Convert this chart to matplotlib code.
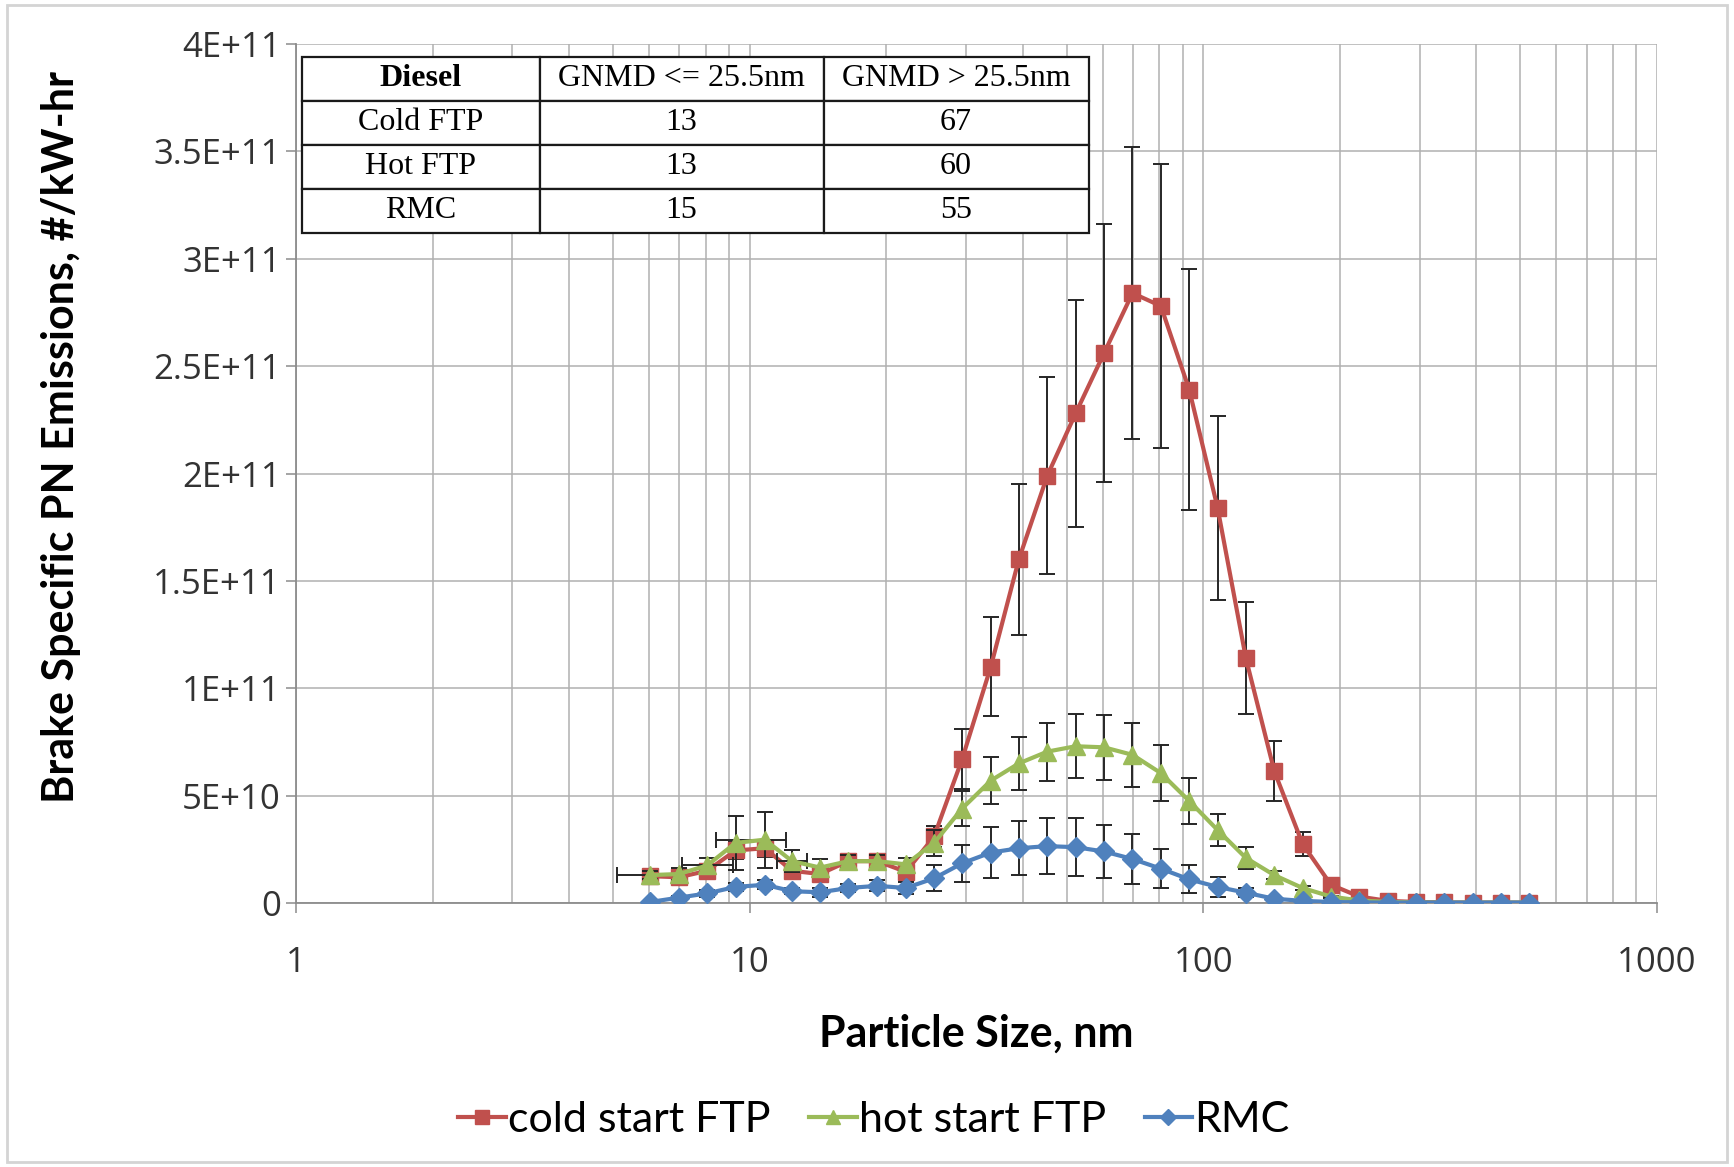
#-------------------------------------------Libraries
import numpy as np
import matplotlib
matplotlib.use('Agg')
import matplotlib.pyplot as plt
from matplotlib.patches import Rectangle
from matplotlib.ticker import NullFormatter, LogLocator
#-------------------------------------------data (units of 1E+10 #/kW-hr)
size_nm = [6.04, 6.98, 8.06, 9.31, 10.8, 12.4, 14.3, 16.5, 19.1, 22.1, 25.5, 29.4,
           34.0, 39.2, 45.3, 52.3, 60.4, 69.8, 80.6, 93.1, 107.5, 124.1, 143.3, 165.5,
           191.1, 220.7, 254.8, 294.3, 339.8, 392.4, 453.2, 523.3]
cold_ftp = [1.25, 1.2, 1.5, 2.45, 2.55, 1.5, 1.35, 1.95, 1.95, 1.45, 3.1, 6.7,
            11.0, 16.0, 19.9, 22.8, 25.6, 28.4, 27.8, 23.9, 18.4, 11.4, 6.15, 2.75,
            0.85, 0.3, 0.1, 0.05, 0.03, 0.02, 0.02, 0.02]
cold_err = [0.1, 0.15, 0.2, 0.4, 0.4, 0.3, 0.3, 0.25, 0.25, 0.3, 0.5, 1.4,
            2.3, 3.5, 4.6, 5.3, 6.0, 6.8, 6.6, 5.6, 4.3, 2.6, 1.4, 0.55,
            0.2, 0.08, 0.03, 0.02, 0.01, 0.01, 0.01, 0.01]
hot_ftp = [1.3, 1.35, 1.75, 2.8, 2.95, 1.95, 1.65, 1.95, 1.95, 1.8, 2.8, 4.4,
           5.7, 6.5, 7.05, 7.3, 7.25, 6.9, 6.05, 4.75, 3.4, 2.1, 1.3, 0.7,
           0.3, 0.12, 0.05, 0.03, 0.02, 0.02, 0.02, 0.02]
hot_err = [0.2, 0.3, 0.35, 1.25, 1.3, 0.5, 0.4, 0.3, 0.3, 0.3, 0.6, 0.8,
           1.1, 1.25, 1.35, 1.5, 1.5, 1.5, 1.3, 1.05, 0.75, 0.5, 0.2, 0.1,
           0.05, 0.02, 0.01, 0.01, 0.01, 0.01, 0.01, 0.01]
rmc = [0.05, 0.25, 0.45, 0.75, 0.85, 0.55, 0.5, 0.7, 0.8, 0.7, 1.15, 1.85,
       2.35, 2.55, 2.65, 2.6, 2.4, 2.05, 1.6, 1.1, 0.75, 0.48, 0.2, 0.1,
       0.05, 0.03, 0.02, 0.02, 0.02, 0.02, 0.02, 0.02]
rmc_err = [0.05, 0.1, 0.15, 0.2, 0.2, 0.15, 0.2, 0.2, 0.25, 0.3, 0.6, 0.85,
           1.2, 1.25, 1.3, 1.35, 1.25, 1.15, 0.9, 0.65, 0.45, 0.2, 0.1, 0.05,
           0.02, 0.01, 0.01, 0.01, 0.01, 0.01, 0.01, 0.01]
# horizontal error bars visible on a few hot start points
hot_xerr_idx = [0, 2, 4, 5]
hot_xerr_lo = [0.95, 0.95, 2.35, 0.9]
hot_xerr_hi = [0.95, 1.15, 1.2, 1.0]

series_names = ['cold start FTP', 'hot start FTP', 'RMC']
y_ticks = [0, 5e10, 1e11, 1.5e11, 2e11, 2.5e11, 3e11, 3.5e11, 4e11]
y_tick_labels = ['0', '5E+10', '1E+11', '1.5E+11', '2E+11', '2.5E+11', '3E+11', '3.5E+11', '4E+11']
x_ticks = [1, 10, 100, 1000]
x_tick_labels = ['1', '10', '100', '1000']

table_rows = [['Diesel', 'GNMD <= 25.5nm', 'GNMD > 25.5nm'],
              ['Cold FTP', '13', '67'],
              ['Hot FTP', '13', '60'],
              ['RMC', '15', '55']]
#-------------------------------------------figure
SCALE = 1e10
narrow = ['Lato', 'DejaVu Sans']
tickfont = ['Open Sans', 'DejaVu Sans']
fig = plt.figure(figsize=(17.34, 11.67), dpi=100)
ax = fig.add_axes([0.1707, 0.2262, 0.7849, 0.7361])

x = np.array(size_nm)
colors = ['#C0504D', '#9BBB59', '#4F81BD']
markers = ['s', '^', 'D']
msizes = [12, 13, 10]
ys = [np.array(cold_ftp) * SCALE, np.array(hot_ftp) * SCALE, np.array(rmc) * SCALE]
errs = [np.array(cold_err) * SCALE, np.array(hot_err) * SCALE, np.array(rmc_err) * SCALE]

handles = []
for i in range(3):
    ax.errorbar(x, ys[i], yerr=errs[i], fmt='none', ecolor='#262626', elinewidth=1.4,
                capsize=6, capthick=1.4, zorder=3 + 2 * i)
    h, = ax.plot(x, ys[i], color=colors[i], marker=markers[i], markersize=msizes[i],
                 lw=3, label=series_names[i], zorder=4 + 2 * i)
    handles.append(h)

xi = np.array(hot_xerr_idx)
ax.errorbar(x[xi], ys[1][xi], xerr=[hot_xerr_lo, hot_xerr_hi], fmt='none', ecolor='#262626',
            elinewidth=1.4, capsize=6, capthick=1.4, zorder=4)
#-------------------------------------------axes
ax.set_xscale('log')
ax.set_xlim(1, 1000)
ax.set_ylim(0, 4e11)
ax.set_xticks(x_ticks)
ax.set_xticklabels(x_tick_labels, family=tickfont)
ax.xaxis.set_minor_locator(LogLocator(base=10, subs=np.arange(2, 10)))
ax.xaxis.set_minor_formatter(NullFormatter())
ax.set_yticks(y_ticks)
ax.set_yticklabels(y_tick_labels, family=tickfont)
ax.grid(True, which='both', color='#b0b0b0', lw=1.1)
ax.set_axisbelow(True)
for s in ['top', 'right']:
    ax.spines[s].set_visible(False)
for s in ['left', 'bottom']:
    ax.spines[s].set_color('#8c8c8c')
    ax.spines[s].set_linewidth(1.3)
ax.tick_params(axis='both', which='major', length=7, width=1.1, color='#8c8c8c',
               labelsize=25, labelcolor='#333333', pad=4)
ax.tick_params(axis='x', which='minor', length=0)
ax.tick_params(axis='x', which='major', pad=24)

ax.set_xlabel('Particle Size, nm', fontsize=31, fontweight='bold', family=narrow, labelpad=24)
ax.set_ylabel('Brake Specific PN Emissions, #/kW-hr', fontsize=31, fontweight='bold',
              family=narrow)
ax.yaxis.set_label_coords(-0.158, 0.543)
#-------------------------------------------table
tb = ax.table(cellText=table_rows, cellLoc='center', colWidths=[0.302, 0.361, 0.337],
              bbox=[0.0044, 0.78, 0.578, 0.205], zorder=20)
tb.auto_set_font_size(False)
for (r, c), cell in tb.get_celld().items():
    cell.set_edgecolor('#1a1a1a')
    cell.set_linewidth(1.6)
    cell.set_facecolor('white')
    t = cell.get_text()
    t.set_fontfamily('Liberation Serif')
    t.set_fontsize(23)
    if r == 0 and c == 0:
        t.set_fontweight('bold')
#-------------------------------------------legend and border
fig.legend(handles=handles, loc='center', bbox_to_anchor=(0.504, 0.040), ncol=3,
           frameon=False, prop={'family': narrow, 'size': 31}, handlelength=1.1,
           handletextpad=0.05, columnspacing=0.9, markerscale=0.8)
fig.patches.append(Rectangle((0.004, 0.004), 0.992, 0.992, transform=fig.transFigure,
                             fill=False, edgecolor='#d4d4d4', lw=2))

fig.savefig('out.png', dpi=100)
#-------------------------------------------end of program
